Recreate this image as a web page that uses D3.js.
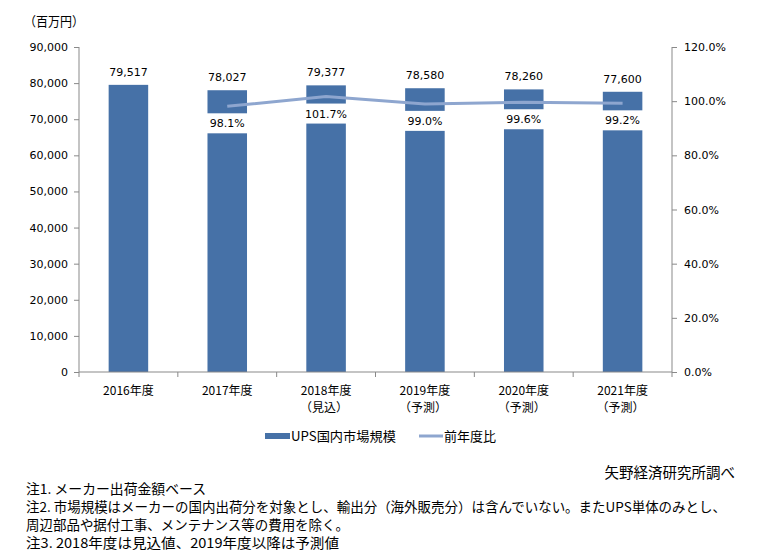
<!DOCTYPE html>
<html><head><meta charset="utf-8">
<script src="https://cdn.jsdelivr.net/npm/d3@7"></script>
<style>
body{margin:0;background:#fff;}
svg{display:block;}
</style></head>
<body>
<svg id="c" width="762" height="559"></svg>
<script>
const categories = ["2016年度","2017年度","2018年度","2019年度","2020年度","2021年度"];
const subLabels = ["","","（見込）","（予測）","（予測）","（予測）"];
const marketSize = [79517,78027,79377,78580,78260,77600];
const yoyRatio = [null,98.1,101.7,99.0,99.6,99.2];
const leftTicks = [0,10000,20000,30000,40000,50000,60000,70000,80000,90000];
const rightTicks = [0,20,40,60,80,100,120];
const notes = [
 "注1. メーカー出荷金額ベース",
 "注2. 市場規模はメーカーの国内出荷分を対象とし、輸出分（海外販売分）は含んでいない。またUPS単体のみとし、",
 "周辺部品や据付工事、メンテナンス等の費用を除く。",
 "注3. 2018年度は見込値、2019年度以降は予測値"
];
// layout only: rendered widths of the note lines
const noteWidths = [180, 700, 323, 313];

const svg = d3.select("#c");
const numFont = "'DejaVu Sans', Verdana, sans-serif";
const jpFont = "'Noto Sans CJK JP', sans-serif";
const L=79, R=672, T=47, B=372;
const barColor="#4671A7", lineColor="#8EA6CF", axisColor="#898989";

const x = d3.scaleBand().domain(categories).range([L,R]).paddingInner(0.6).paddingOuter(0.3);
const xb = d3.scaleBand().domain(categories).range([L,R]);
const y = d3.scaleLinear().domain([0,90000]).range([B,T]);
const y2 = d3.scaleLinear().domain([0,120]).range([B,T]);

// bars
svg.append("g").selectAll("rect").data(marketSize).join("rect")
  .attr("x",(d,i)=>x(categories[i])).attr("width",x.bandwidth())
  .attr("y",d=>y(d)).attr("height",d=>B-y(d)).attr("fill",barColor);

// left axis
const ga = svg.append("g").attr("transform",`translate(${L},0)`)
  .call(d3.axisLeft(y).tickValues(leftTicks).tickSize(5).tickPadding(6).tickFormat(d3.format(",")));
ga.selectAll("path,line").attr("stroke",axisColor);
ga.select(".domain").attr("d",`M0,${T}V${B}`);
ga.selectAll("text").attr("font-family",numFont).attr("font-size",11).attr("fill","#000");

// right axis
const gr = svg.append("g").attr("transform",`translate(${R},0)`)
  .call(d3.axisRight(y2).tickValues(rightTicks).tickSize(5).tickPadding(7).tickFormat(d=>d.toFixed(1)+"%"));
gr.selectAll("path,line").attr("stroke",axisColor);
gr.select(".domain").attr("d",`M0,${T}V${B}`);
gr.selectAll("text").attr("font-family",numFont).attr("font-size",11).attr("fill","#000");

// bottom axis
const gb = svg.append("g");
gb.append("line").attr("x1",L).attr("x2",R).attr("y1",B).attr("y2",B).attr("stroke",axisColor);
const bounds = categories.map(c=>xb(c)).concat([R]);
gb.selectAll("line.t").data(bounds).join("line").attr("class","t")
  .attr("x1",d=>d).attr("x2",d=>d).attr("y1",B).attr("y2",B+5).attr("stroke",axisColor);
categories.forEach((c,i)=>{
  const cx = xb(c)+xb.bandwidth()/2;
  svg.append("text").attr("x",cx).attr("y",395).attr("text-anchor","middle")
    .attr("font-family",jpFont).attr("font-size",12).text(c);
  if(subLabels[i]) svg.append("text").attr("x",cx-2).attr("y",412).attr("text-anchor","middle")
    .attr("font-family",jpFont).attr("font-size",12).text(subLabels[i]);
});

// value labels
svg.append("g").selectAll("text").data(marketSize).join("text")
  .attr("x",(d,i)=>xb(categories[i])+xb.bandwidth()/2).attr("y",d=>y(d)-9)
  .attr("text-anchor","middle").attr("font-family",numFont).attr("font-size",11)
  .text(d=>d3.format(",")(d));

// line
const pts = yoyRatio.map((v,i)=>({v,c:categories[i]})).filter(p=>p.v!=null);
svg.append("path").datum(pts)
  .attr("d",d3.line().x(p=>xb(p.c)+xb.bandwidth()/2).y(p=>y2(p.v)))
  .attr("fill","none").attr("stroke",lineColor).attr("stroke-width",3);

// ratio labels with white boxes
const rl = svg.append("g").selectAll("g").data(pts).join("g")
  .attr("transform",p=>`translate(${xb(p.c)+xb.bandwidth()/2},${y2(p.v)})`);
rl.append("rect").attr("x",-22).attr("y",7).attr("width",44).attr("height",20).attr("fill","#fff");
rl.append("text").attr("y",21).attr("text-anchor","middle").attr("font-family",numFont)
  .attr("font-size",11).text(p=>p.v.toFixed(1)+"%");

// unit label
svg.append("text").attr("x",24).attr("y",26).attr("font-family",jpFont).attr("font-size",13)
  .attr("textLength",60).attr("lengthAdjust","spacingAndGlyphs").text("（百万円）");

// legend
svg.append("rect").attr("x",265).attr("y",433).attr("width",25).attr("height",6).attr("fill",barColor);
svg.append("text").attr("x",291).attr("y",441).attr("font-family",jpFont).attr("font-size",13)
  .attr("textLength",105).attr("lengthAdjust","spacingAndGlyphs").text("UPS国内市場規模");
svg.append("line").attr("x1",419).attr("x2",443).attr("y1",436).attr("y2",436).attr("stroke",lineColor).attr("stroke-width",3);
svg.append("text").attr("x",444).attr("y",441).attr("font-family",jpFont).attr("font-size",13).text("前年度比");

// source
svg.append("text").attr("x",735).attr("y",478).attr("text-anchor","end").attr("font-family",jpFont).attr("font-size",14.5).text("矢野経済研究所調べ");

// notes
svg.append("g").selectAll("text").data(notes).join("text")
  .attr("x",26).attr("y",(d,i)=>494+i*18)
  .attr("font-family",jpFont).attr("font-size",13.5)
  .attr("textLength",(d,i)=>noteWidths[i]).attr("lengthAdjust","spacingAndGlyphs")
  .text(d=>d);
</script>
</body></html>
